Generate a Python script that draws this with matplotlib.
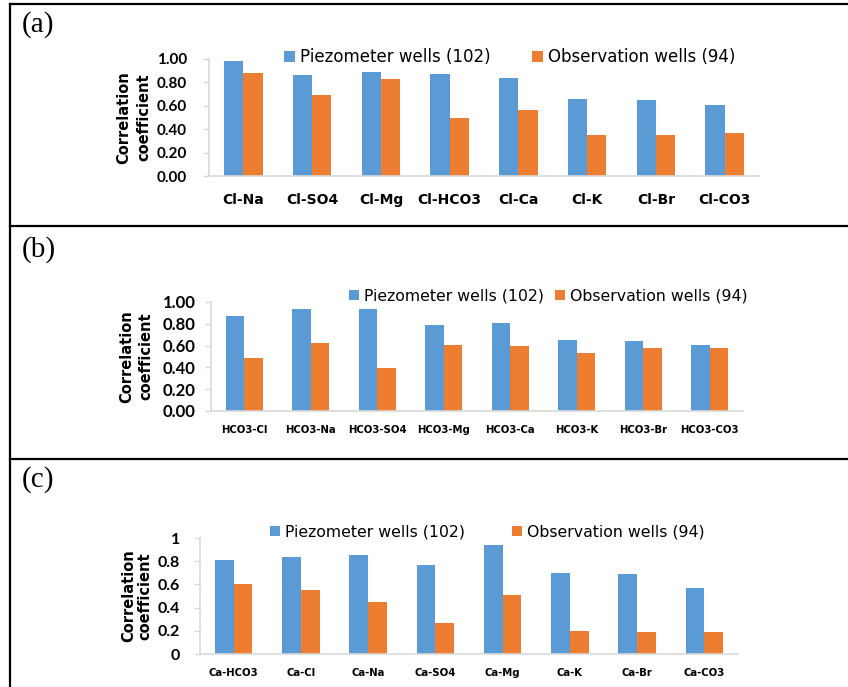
import matplotlib
matplotlib.use("Agg")
import matplotlib.pyplot as plt
from matplotlib.lines import Line2D
import numpy as np

# ----- D A T A -----
a_labels = ["Cl-Na", "Cl-SO4", "Cl-Mg", "Cl-HCO3", "Cl-Ca", "Cl-K", "Cl-Br", "Cl-CO3"]
a_piezo = [0.98, 0.86, 0.89, 0.875, 0.84, 0.66, 0.65, 0.61]
a_obs = [0.88, 0.69, 0.83, 0.50, 0.56, 0.35, 0.35, 0.37]

b_labels = ["HCO3-Cl", "HCO3-Na", "HCO3-SO4", "HCO3-Mg", "HCO3-Ca", "HCO3-K", "HCO3-Br", "HCO3-CO3"]
b_piezo = [0.87, 0.94, 0.94, 0.79, 0.81, 0.65, 0.64, 0.61]
b_obs = [0.49, 0.62, 0.39, 0.61, 0.60, 0.53, 0.58, 0.58]

c_labels = ["Ca-HCO3", "Ca-Cl", "Ca-Na", "Ca-SO4", "Ca-Mg", "Ca-K", "Ca-Br", "Ca-CO3"]
c_piezo = [0.81, 0.84, 0.85, 0.77, 0.94, 0.70, 0.69, 0.57]
c_obs = [0.60, 0.55, 0.45, 0.27, 0.51, 0.20, 0.19, 0.19]

series_names = ["Piezometer wells (102)", "Observation wells (94)"]
_blue, _orange, _gray = "#5B9BD5", "#ED7D31", "#D9D9D9"

# ----- L A Y O U T ----- (pixel coords of the 848x687 picture)
W, H = 848, 687
fig = plt.figure(figsize=(W / 100, H / 100), dpi=100)


def rect(x0, y0, x1, y1):
    return [x0 / W, 1 - y1 / H, (x1 - x0) / W, (y1 - y0) / H]


def line(x0, y0, x1, y1):
    fig.add_artist(Line2D([x0 / W, x1 / W], [1 - y0 / H, 1 - y1 / H],
                          transform=fig.transFigure, color="black", lw=1.6))


# frame round the three panels
line(10, 4, 10, 687)
for yy in [4, 226, 459]:
    line(10, yy, 848, yy)


def panel(box, labels, piezo, obs, yfmt, tag, tag_y, leg_x, leg_y, leg_fs, colsp,
          ylab_x, ylab_ls, ylab_fs, xfs, xpad, yfs, ypad):
    ax = fig.add_axes(rect(*box))
    x = np.arange(len(labels))
    w = 0.28
    ax.bar(x - w / 2, piezo, w, color=_blue, label=series_names[0])
    ax.bar(x + w / 2, obs, w, color=_orange, label=series_names[1])
    ax.set_xlim(-0.5, len(labels) - 0.5)
    ax.set_ylim(0, 1)
    ticks = np.arange(0, 1.01, 0.2)
    ax.set_yticks(ticks)
    ax.set_yticklabels([yfmt(v) for v in ticks], fontsize=yfs, fontweight="bold", family="Lato")
    ax.set_xticks(x)
    ax.set_xticklabels(labels, fontsize=xfs, fontweight="bold", family="DejaVu Sans")
    for t in ax.get_xticklabels():
        t.set_verticalalignment("baseline")
    ax.tick_params(axis="x", length=0, pad=xpad)
    ax.tick_params(axis="y", length=4.3, width=1, color=_gray, pad=ypad)
    for s in ["top", "right"]:
        ax.spines[s].set_visible(False)
    for s in ["left", "bottom"]:
        ax.spines[s].set_color(_gray)
        ax.spines[s].set_linewidth(1.2)

    ax.legend(loc="center left", bbox_to_anchor=(leg_x / W, 1 - leg_y / H),
              bbox_transform=fig.transFigure, ncol=2, frameon=False,
              borderpad=0, borderaxespad=0, handlelength=0.65, handleheight=0.65,
              handletextpad=0.3, columnspacing=colsp,
              prop={"family": "DejaVu Sans", "size": leg_fs})

    yc = (box[1] + box[3]) / 2
    fig.text(ylab_x / W, 1 - yc / H, "Correlation\ncoefficient", rotation=90,
             ha="center", va="center", fontsize=ylab_fs, fontweight="bold",
             family="DejaVu Sans", linespacing=ylab_ls, multialignment="center")
    fig.text(22 / W, 1 - tag_y / H, tag, ha="left", va="center", fontsize=21,
             family="Liberation Serif")
    return ax


panel((209, 59, 759, 176), a_labels, a_piezo, a_obs, lambda v: f"{v:.2f}",
      "(a)", 25, 284, 57, 12, 2.5, 134, 1.45, 10.5, 10, 20, 11, 11.5)
panel((211, 302, 743, 411), b_labels, b_piezo, b_obs, lambda v: f"{v:.2f}",
      "(b)", 250, 349, 296, 11.3, 0.7, 136, 1.35, 10.5, 7.3, 16, 12, 7)
panel((200, 538, 738, 654), c_labels, c_piezo, c_obs,
      lambda v: f"{v:.1f}".replace("0.0", "0").replace("1.0", "1"),
      "(c)", 480, 270, 532, 11.3, 3.0, 137, 1.05, 10.5, 7.3, 16, 11.5, 10)

fig.savefig("out.png", dpi=100)
